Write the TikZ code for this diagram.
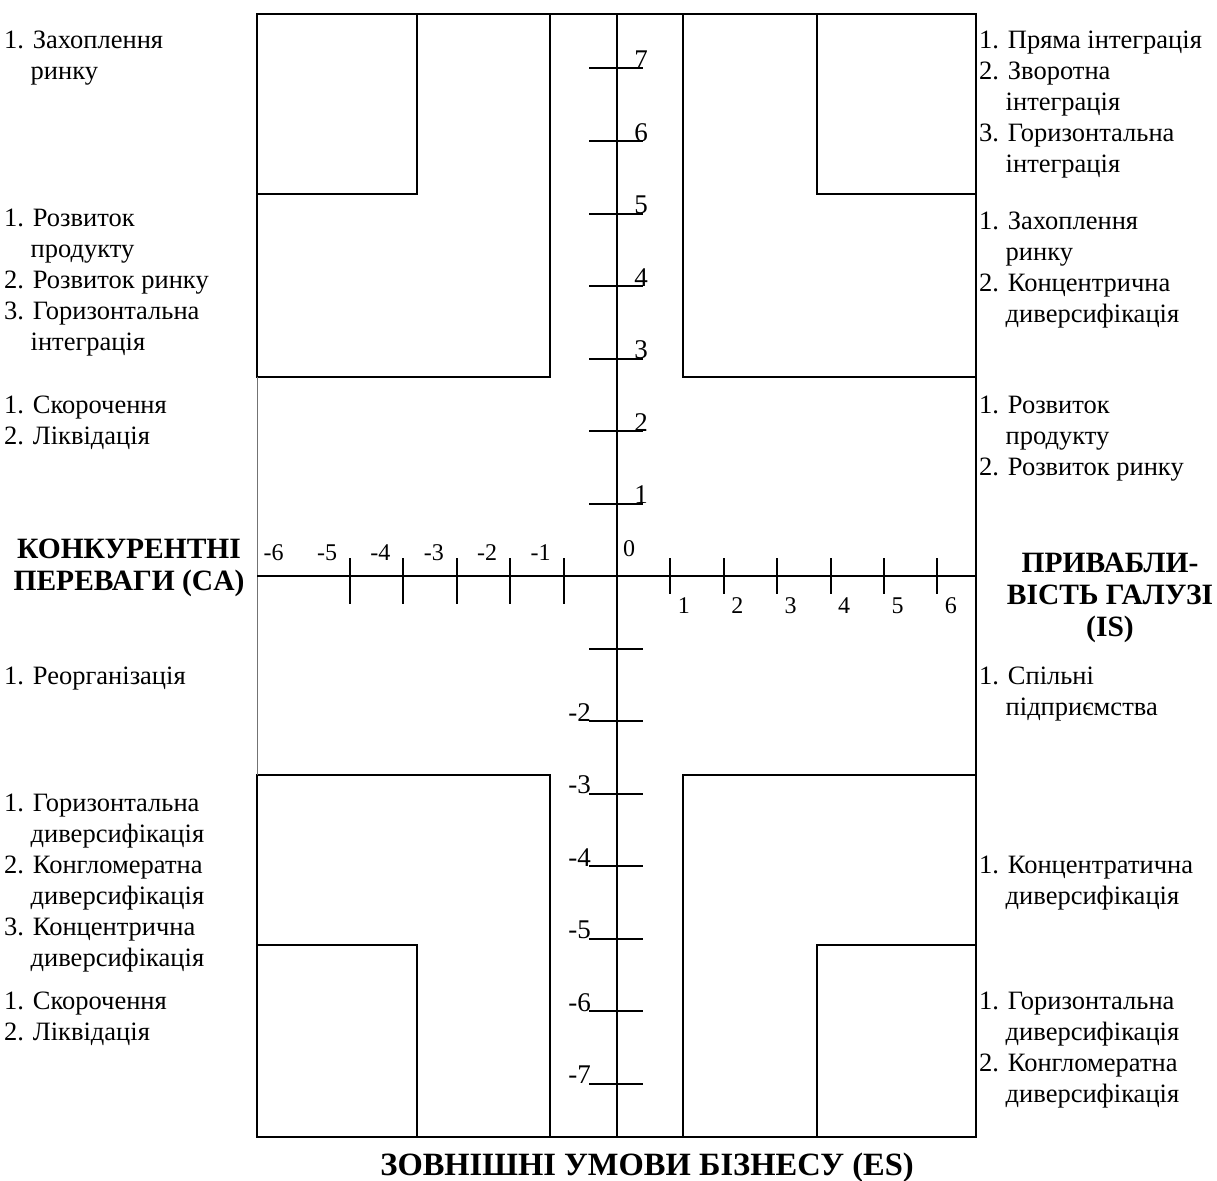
\documentclass[tikz,border=0pt]{standalone}
\usepackage{fontspec}
\setmainfont{Liberation Serif}
% stacked lines, first baseline on the node's base
\newcommand\stk[2][l]{\begin{tabular}[t]{@{}#1@{}}#2\end{tabular}}
% indent of a continuation line under "1. "
\newcommand\numpad{\hphantom{1.\ }}
\begin{document}
\begin{tikzpicture}[x=1pt,y=-1pt,
  edge/.style={line width=2pt},
  soft/.style={line width=1pt, black!55},
  tickmark/.style={line width=2pt},
  item/.style={anchor=base west, inner sep=0pt, font=\fontsize{26.5}{31}\selectfont},
  head/.style={anchor=base, inner sep=0pt, font=\fontsize{29.5}{32}\selectfont\bfseries},
  caption/.style={anchor=base, inner sep=0pt, font=\fontsize{32.5}{34}\selectfont\bfseries},
  ylab/.style={inner sep=0pt, font=\fontsize{27}{29}\selectfont},
  xlab/.style={inner sep=0pt, anchor=base, font=\fontsize{24}{26}\selectfont},
]
\useasboundingbox (0,0) rectangle (1217,1180);

% quadrant boxes
\draw[edge] (257,14) rectangle (550,377);
\draw[edge] (257,14) rectangle (417,194);
\draw[edge] (683,14) rectangle (976,377);
\draw[edge] (817,14) rectangle (976,194);
\draw[edge] (257,775) rectangle (550,1137);
\draw[edge] (257,945) rectangle (417,1137);
\draw[edge] (683,775) rectangle (976,1137);
\draw[edge] (817,945) rectangle (976,1137);
% outer frame
\draw[edge] (257,14) -- (976,14) -- (976,1137) -- (257,1137);
\draw[soft] (257,377) -- (257,775);

% axes
\draw[edge] (617,14) -- (617,1137);
\draw[edge] (257,576) -- (976,576);

% vertical scale
\foreach \k in {1,...,7}{
  \draw[tickmark] (589,{576-72.5*\k}) -- (643,{576-72.5*\k});
  \node[ylab, anchor=base] at (641,{576-72.5*\k}) {\k};
}
\foreach \k in {-7,...,-1}{
  \draw[tickmark] (589,{576-72.5*\k}) -- (643,{576-72.5*\k});
}
\foreach \k in {-7,...,-2}{
  \node[ylab, anchor=base east] at (591,{576-72.5*\k}) {\k};
}

% horizontal scale
\foreach \k in {1,...,6}{
  \draw[tickmark] ({617+53.4*\k},558) -- ({617+53.4*\k},594);
  \node[xlab] at ({630.5+53.4*\k},613) {\k};
}
\foreach \k in {-5,...,-1}{
  \draw[tickmark] ({617+53.4*\k},558) -- ({617+53.4*\k},604);
}
\foreach \k in {-6,...,-1}{
  \node[xlab] at ({594+53.4*\k},560) {\k};
}
\node[xlab] (zero) at (629,556) {0};

% left column
\node[item] (la) at (4,49) {\stk{1. Захоплення\\\numpad ринку}};
\node[item] (lb) at (4,226) {\stk{1. Розвиток\\\numpad продукту\\2. Розвиток ринку\\3. Горизонтальна\\\numpad інтеграція}};
\node[item] (lc) at (4,413) {\stk{1. Скорочення\\2. Ліквідація}};
\node[head] (ca) at (129,558) {\stk[c]{КОНКУРЕНТНІ\\ПЕРЕВАГИ (CA)}};
\node[item] (ld) at (4,684) {\stk{1. Реорганізація}};
\node[item] (le) at (4,811) {\stk{1. Горизонтальна\\\numpad диверсифікація\\2. Конгломератна\\\numpad диверсифікація\\3. Концентрична\\\numpad диверсифікація}};
\node[item] (lf) at (4,1009) {\stk{1. Скорочення\\2. Ліквідація}};

% right column
\node[item] (ra) at (979,49) {\stk{1. Пряма інтеграція\\2. Зворотна\\\numpad інтеграція\\3. Горизонтальна\\\numpad інтеграція}};
\node[item] (rb) at (979,229) {\stk{1. Захоплення\\\numpad ринку\\2. Концентрична\\\numpad диверсифікація}};
\node[item] (rc) at (979,413) {\stk{1. Розвиток\\\numpad продукту\\2. Розвиток ринку}};
\node[head] (is) at (1110,572) {\stk[c]{ПРИВАБЛИ-\\ВІСТЬ ГАЛУЗІ\\(IS)}};
\node[item] (rd) at (979,684) {\stk{1. Спільні\\\numpad підприємства}};
\node[item] (re) at (979,873) {\stk{1. Концентратична\\\numpad диверсифікація}};
\node[item] (rf) at (979,1009) {\stk{1. Горизонтальна\\\numpad диверсифікація\\2. Конгломератна\\\numpad диверсифікація}};

% bottom caption
\node[caption] (es) at (647,1175) {ЗОВНІШНІ УМОВИ БІЗНЕСУ (ES)};
\end{tikzpicture}
\end{document}
